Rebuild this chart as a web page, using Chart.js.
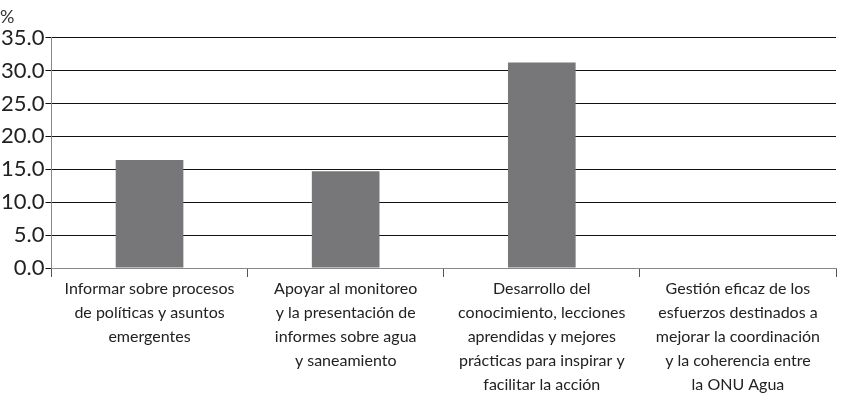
<!DOCTYPE html>
<html><head><meta charset="utf-8">
<script src="https://cdn.jsdelivr.net/npm/chart.js@4"></script>
<style>html,body{margin:0;background:#fff}#w{width:850px;height:401px}</style>
</head><body><div id="w"><canvas id="c"></canvas></div>
<script>
const categories = [
  ["Informar sobre procesos","de políticas y asuntos","emergentes"],
  ["Apoyar al monitoreo","y la presentación de","informes sobre agua","y saneamiento"],
  ["Desarrollo del","conocimiento, lecciones","aprendidas y mejores","prácticas para inspirar y","facilitar la acción"],
  ["Gestión eficaz de los","esfuerzos destinados a","mejorar la coordinación","y la coherencia entre","la ONU Agua"]
];
const values = [16.4, 14.7, 31.2, 0];
const yTicks = [0,5,10,15,20,25,30,35];
new Chart(document.getElementById('c'), {
  type: 'bar',
  data: { labels: categories, datasets: [{ data: values, backgroundColor: '#77777a', barPercentage: 0.69, categoryPercentage: 0.5 }] },
  options: {
    responsive: true, maintainAspectRatio: false, animation: false,
    layout: { padding: { left: 0, right: 14, top: 0, bottom: 4 } },
    plugins: { legend: { display: false }, tooltip: { enabled: false },
      title: { display: true, text: '%', align: 'start', color: '#333', font: { family: 'Lato', size: 18, weight: 'normal' }, padding: { top: 6, bottom: 10 } } },
    scales: {
      x: { grid: { offset: true, drawOnChartArea: false, color: '#555', tickLength: 9 },
           border: { color: '#888' },
           ticks: { color: '#222', font: { family: 'Lato', size: 16, lineHeight: 1.5 }, maxRotation: 0, autoSkip: false, padding: 0 } },
      y: { min: 0, max: 35, afterBuildTicks: a => { a.ticks = yTicks.map(v => ({ value: v })); },
           grid: { color: '#111', lineWidth: 1, tickLength: 6 }, border: { color: '#888' },
           ticks: { color: '#222', font: { family: 'Lato', size: 22 }, padding: 1, callback: v => v.toFixed(1) } }
    }
  }
});
</script></body></html>
